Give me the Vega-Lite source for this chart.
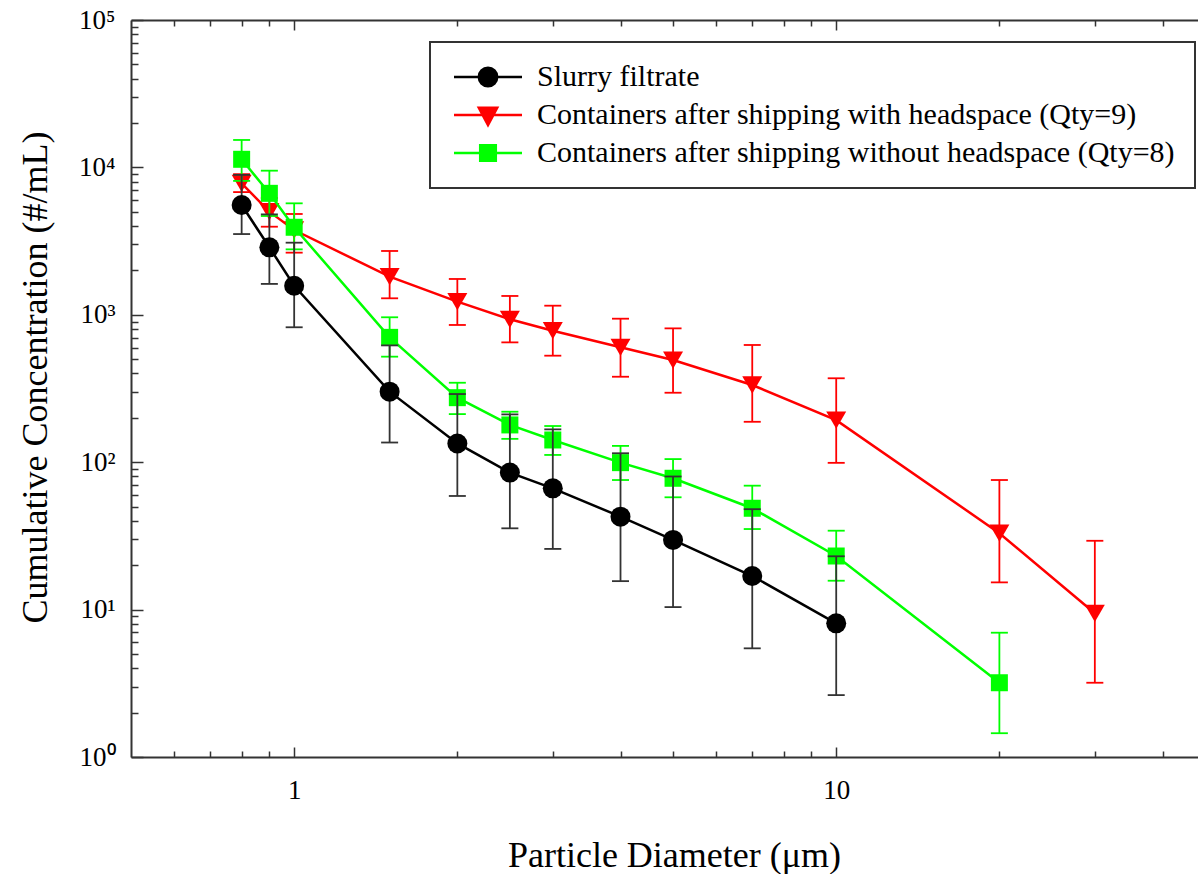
{
  "$schema": "https://vega.github.io/schema/vega-lite/v6.json",
  "width": 1067,
  "height": 737,
  "autosize": "none",
  "padding": {"left": 131, "top": 20, "right": 0, "bottom": 117},
  "background": "white",
  "config": {
    "view": {"stroke": null},
    "font": "Liberation Serif",
    "axis": {
      "grid": false,
      "domainColor": "#333333",
      "domainWidth": 2,
      "tickColor": "#333333",
      "tickWidth": 1.5,
      "labelFont": "Liberation Serif",
      "labelFontSize": 27,
      "labelColor": "#000000",
      "labelOverlap": false,
      "labelBound": false,
      "labelFlush": false,
      "titleFont": "Liberation Serif",
      "titleFontSize": 36,
      "titleFontWeight": "normal",
      "titleColor": "#000000"
    }
  },
  "data": {
    "values": [
      {"s": "Containers after shipping with headspace (Qty=9)", "d": 0.8, "c": 7800, "lo": 6800, "hi": 9000},
      {"s": "Containers after shipping with headspace (Qty=9)", "d": 0.9, "c": 5010, "lo": 3960, "hi": 6200},
      {"s": "Containers after shipping with headspace (Qty=9)", "d": 1, "c": 3760, "lo": 2640, "hi": 4830},
      {"s": "Containers after shipping with headspace (Qty=9)", "d": 1.5, "c": 1814, "lo": 1294, "hi": 2710},
      {"s": "Containers after shipping with headspace (Qty=9)", "d": 2, "c": 1228, "lo": 853, "hi": 1750},
      {"s": "Containers after shipping with headspace (Qty=9)", "d": 2.5, "c": 932, "lo": 650, "hi": 1342},
      {"s": "Containers after shipping with headspace (Qty=9)", "d": 3, "c": 780, "lo": 528, "hi": 1153},
      {"s": "Containers after shipping with headspace (Qty=9)", "d": 4, "c": 602, "lo": 380, "hi": 941},
      {"s": "Containers after shipping with headspace (Qty=9)", "d": 5, "c": 493, "lo": 296, "hi": 809},
      {"s": "Containers after shipping with headspace (Qty=9)", "d": 7, "c": 334, "lo": 188, "hi": 624},
      {"s": "Containers after shipping with headspace (Qty=9)", "d": 10, "c": 193, "lo": 99, "hi": 371},
      {"s": "Containers after shipping with headspace (Qty=9)", "d": 20, "c": 33, "lo": 15.3, "hi": 75.7},
      {"s": "Containers after shipping with headspace (Qty=9)", "d": 30, "c": 9.44, "lo": 3.19, "hi": 29.3},
      {"s": "Containers after shipping without headspace (Qty=8)", "d": 0.8, "c": 11350, "lo": 8100, "hi": 15350},
      {"s": "Containers after shipping without headspace (Qty=8)", "d": 0.9, "c": 6670, "lo": 4680, "hi": 9500},
      {"s": "Containers after shipping without headspace (Qty=8)", "d": 1, "c": 3925, "lo": 2780, "hi": 5705},
      {"s": "Containers after shipping without headspace (Qty=8)", "d": 1.5, "c": 703, "lo": 520, "hi": 962},
      {"s": "Containers after shipping without headspace (Qty=8)", "d": 2, "c": 274, "lo": 212, "hi": 346},
      {"s": "Containers after shipping without headspace (Qty=8)", "d": 2.5, "c": 179, "lo": 144, "hi": 220},
      {"s": "Containers after shipping without headspace (Qty=8)", "d": 3, "c": 141.5, "lo": 112, "hi": 176},
      {"s": "Containers after shipping without headspace (Qty=8)", "d": 4, "c": 99.3, "lo": 75.7, "hi": 129},
      {"s": "Containers after shipping without headspace (Qty=8)", "d": 5, "c": 77.8, "lo": 57.8, "hi": 105},
      {"s": "Containers after shipping without headspace (Qty=8)", "d": 7, "c": 48.7, "lo": 35.2, "hi": 69.3},
      {"s": "Containers after shipping without headspace (Qty=8)", "d": 10, "c": 23.1, "lo": 15.7, "hi": 34.3},
      {"s": "Containers after shipping without headspace (Qty=8)", "d": 20, "c": 3.19, "lo": 1.45, "hi": 6.97},
      {"s": "Slurry filtrate", "d": 0.8, "c": 5560, "lo": 3530, "hi": 8900},
      {"s": "Slurry filtrate", "d": 0.9, "c": 2870, "lo": 1620, "hi": 4800},
      {"s": "Slurry filtrate", "d": 1, "c": 1575, "lo": 823, "hi": 3085},
      {"s": "Slurry filtrate", "d": 1.5, "c": 301, "lo": 136, "hi": 620},
      {"s": "Slurry filtrate", "d": 2, "c": 134, "lo": 59, "hi": 290},
      {"s": "Slurry filtrate", "d": 2.5, "c": 85, "lo": 35.6, "hi": 211},
      {"s": "Slurry filtrate", "d": 3, "c": 66.5, "lo": 25.8, "hi": 167},
      {"s": "Slurry filtrate", "d": 4, "c": 42.7, "lo": 15.6, "hi": 115},
      {"s": "Slurry filtrate", "d": 5, "c": 29.7, "lo": 10.4, "hi": 80},
      {"s": "Slurry filtrate", "d": 7, "c": 16.9, "lo": 5.46, "hi": 48},
      {"s": "Slurry filtrate", "d": 10, "c": 8.07, "lo": 2.63, "hi": 23}
    ]
  },
  "encoding": {
    "x": {"field": "d", "type": "quantitative", "scale": {"type": "log", "domain": [0.5, 46.5]}, "axis": null},
    "y": {
      "field": "c", "type": "quantitative", "scale": {"type": "log", "domain": [1, 100000]},
      "axis": {
        "orient": "left",
        "values": [1, 2, 3, 4, 5, 6, 7, 8, 9, 10, 20, 30, 40, 50, 60, 70, 80, 90, 100, 200, 300, 400, 500, 600, 700, 800, 900, 1000, 2000, 3000, 4000, 5000, 6000, 7000, 8000, 9000, 10000, 20000, 30000, 40000, 50000, 60000, 70000, 80000, 90000, 100000],
        "labelExpr": "datum.value === 1 ? '10⁰' : datum.value === 10 ? '10¹' : datum.value === 100 ? '10²' : datum.value === 1000 ? '10³' : datum.value === 10000 ? '10⁴' : datum.value === 100000 ? '10⁵' : ''",
        "tickSize": {"condition": {"test": "datum.value === 1 || datum.value === 10 || datum.value === 100 || datum.value === 1000 || datum.value === 10000 || datum.value === 100000", "value": -12}, "value": -7},
        "labelPadding": 28,
        "title": "Cumulative Concentration (#/mL)",
        "titleX": -96,
        "titleY": 357,
        "titleBaseline": "middle",
        "titleAlign": "center"
      }
    },
    "color": {
      "field": "s",
      "type": "nominal",
      "scale": {
        "domain": ["Slurry filtrate", "Containers after shipping with headspace (Qty=9)", "Containers after shipping without headspace (Qty=8)"],
        "range": ["#000000", "#ff0000", "#00ff00"]
      },
      "legend": {
        "orient": "none",
        "legendX": 299,
        "legendY": 22,
        "title": null,
        "padding": 20,
        "strokeColor": "#333333",
        "fillColor": "#ffffff",
        "symbolSize": 400,
        "symbolOffset": 23,
        "labelFont": "Liberation Serif",
        "labelFontSize": 30,
        "labelColor": "#000000",
        "labelLimit": 1200,
        "labelOffset": 34,
        "rowPadding": 8,
        "encode": {
          "legend": {"update": {"strokeWidth": {"value": 2}}},
          "symbols": {
            "update": {
              "shape": {"signal": "datum.value === 'Slurry filtrate' ? 'M-3.4,0H3.4M-0.92,0A0.92,0.92,0,1,1,0.92,0A0.92,0.92,0,1,1,-0.92,0Z' : indexof(datum.value, 'without') >= 0 ? 'M-3.4,0H3.4M-0.78,-0.78H0.78V0.78H-0.78Z' : 'M-3.4,0H3.4M-0.92,-0.72H0.92L0,1.0Z'"},
              "fill": {"scale": "color", "field": "value"},
              "stroke": {"scale": "color", "field": "value"},
              "strokeWidth": {"value": 2.5},
              "opacity": {"value": 1}
            }
          }
        }
      }
    }
  },
  "layer": [
    {
      "mark": {"type": "point", "opacity": 0},
      "encoding": {
        "x": {
          "field": "d", "type": "quantitative", "scale": {"type": "log", "domain": [0.5, 46.5]},
          "axis": {
            "orient": "bottom",
            "values": [0.6, 0.7, 0.8, 0.9, 1, 2, 3, 4, 5, 6, 7, 8, 9, 10, 20, 30, 40],
            "labelExpr": "datum.value === 1 ? '1' : datum.value === 10 ? '10' : ''",
            "tickSize": {"condition": {"test": "datum.value === 1 || datum.value === 10", "value": -10}, "value": -6},
            "labelPadding": 30,
            "title": "Particle Diameter (μm)",
            "titleX": 543,
            "titleY": 98,
            "titleBaseline": "middle",
            "titleAlign": "center"
          }
        }
      }
    },
    {
      "mark": {"type": "point", "opacity": 0},
      "encoding": {
        "x": {
          "field": "d", "type": "quantitative", "scale": {"type": "log", "domain": [0.5, 46.5]},
          "axis": {
            "orient": "top",
            "values": [0.6, 0.7, 0.8, 0.9, 1, 2, 3, 4, 5, 6, 7, 8, 9, 10, 20, 30, 40],
            "labels": false,
            "tickSize": {"condition": {"test": "datum.value === 1 || datum.value === 10", "value": -10}, "value": -6},
            "title": null
          }
        }
      }
    },
    {
      "transform": [{"filter": {"field": "s", "equal": "Containers after shipping with headspace (Qty=9)"}}],
      "layer": [
        {
          "mark": {"type": "rule", "strokeWidth": 1.8},
          "encoding": {
            "y": {"field": "lo", "type": "quantitative", "scale": {"type": "log", "domain": [1, 100000]}},
            "y2": {"field": "hi"}
          }
        },
        {
          "transform": [{"fold": ["lo", "hi"], "as": ["bound", "ev"]}],
          "mark": {"type": "tick", "orient": "horizontal", "size": 17, "thickness": 1.8, "opacity": 1},
          "encoding": {"y": {"field": "ev", "type": "quantitative", "scale": {"type": "log", "domain": [1, 100000]}}}
        },
        {"mark": {"type": "line", "strokeWidth": 2.5}},
        {"mark": {"type": "point", "filled": true, "opacity": 1, "shape": "triangle-down", "size": 400}}
      ]
    },
    {
      "transform": [{"filter": {"field": "s", "equal": "Containers after shipping without headspace (Qty=8)"}}],
      "layer": [
        {
          "mark": {"type": "rule", "strokeWidth": 1.8},
          "encoding": {
            "y": {"field": "lo", "type": "quantitative", "scale": {"type": "log", "domain": [1, 100000]}},
            "y2": {"field": "hi"}
          }
        },
        {
          "transform": [{"fold": ["lo", "hi"], "as": ["bound", "ev"]}],
          "mark": {"type": "tick", "orient": "horizontal", "size": 17, "thickness": 1.8, "opacity": 1},
          "encoding": {"y": {"field": "ev", "type": "quantitative", "scale": {"type": "log", "domain": [1, 100000]}}}
        },
        {"mark": {"type": "line", "strokeWidth": 2.5}},
        {"mark": {"type": "point", "filled": true, "opacity": 1, "shape": "square", "size": 289}}
      ]
    },
    {
      "transform": [{"filter": {"field": "s", "equal": "Slurry filtrate"}}],
      "layer": [
        {
          "mark": {"type": "rule", "strokeWidth": 1.8},
          "encoding": {
            "color": {"value": "#333333"},
            "y": {"field": "lo", "type": "quantitative", "scale": {"type": "log", "domain": [1, 100000]}},
            "y2": {"field": "hi"}
          }
        },
        {
          "transform": [{"fold": ["lo", "hi"], "as": ["bound", "ev"]}],
          "mark": {"type": "tick", "orient": "horizontal", "size": 17, "thickness": 1.8, "opacity": 1},
          "encoding": {
            "color": {"value": "#333333"},
            "y": {"field": "ev", "type": "quantitative", "scale": {"type": "log", "domain": [1, 100000]}}
          }
        },
        {"mark": {"type": "line", "strokeWidth": 2.5}},
        {"mark": {"type": "point", "filled": true, "opacity": 1, "shape": "circle", "size": 400}}
      ]
    }
  ],
  "resolve": {"axis": {"x": "independent"}}
}
